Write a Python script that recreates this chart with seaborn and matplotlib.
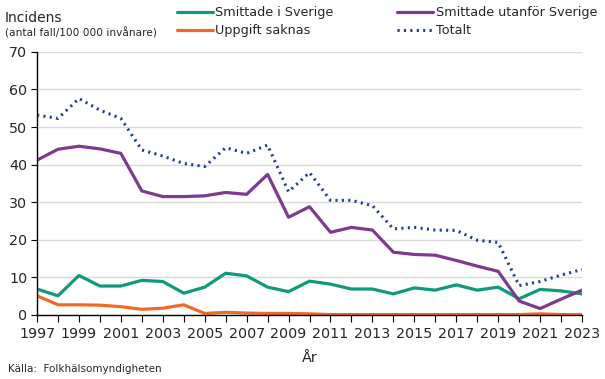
import pandas as pd
import matplotlib.pyplot as plt
import seaborn as sns

# data
years = list(range(1997, 2024))
smittade_sverige = [6.9, 5.1, 10.5, 7.7, 7.7, 9.2, 8.9, 5.8, 7.4, 11.1, 10.4, 7.4, 6.2,
                    9.0, 8.2, 6.9, 6.9, 5.6, 7.2, 6.6, 8.0, 6.6, 7.4, 4.3, 6.8, 6.4, 5.6]
smittade_utanfor = [41.2, 44.1, 44.9, 44.2, 43.0, 33.0, 31.5, 31.5, 31.7, 32.6, 32.1, 37.4, 26.0,
                    28.8, 22.0, 23.3, 22.6, 16.7, 16.1, 15.9, 14.5, 13.0, 11.6, 3.7, 1.7, 4.2, 6.6]
uppgift_saknas = [5.1, 2.7, 2.7, 2.6, 2.2, 1.5, 1.8, 2.7, 0.4, 0.7, 0.5, 0.4, 0.4,
                  0.3, 0.1, 0.1, 0.1, 0.1, 0.1, 0.1, 0.1, 0.1, 0.1, 0.1, 0.3, 0.1, 0.1]
totalt = [53.2, 52.3, 57.6, 54.5, 52.3, 43.9, 42.3, 40.3, 39.5, 44.5, 43.0, 45.2, 32.8,
          37.9, 30.5, 30.5, 29.1, 22.9, 23.3, 22.6, 22.5, 19.9, 19.3, 7.8, 8.9, 10.6, 12.1]

df = pd.DataFrame({
    'År': years,
    'Smittade i Sverige': smittade_sverige,
    'Uppgift saknas': uppgift_saknas,
    'Smittade utanför Sverige': smittade_utanfor,
    'Totalt': totalt,
})

sns.set_style('white')
plt.rcParams['font.family'] = ['DejaVu Sans']

fig = plt.figure(figsize=(6.05, 3.79), dpi=100)
ax = fig.add_axes([0.0612, 0.169, 0.9008, 0.694])

farger = {
    'Smittade i Sverige': '#0E9A7B',
    'Uppgift saknas': '#EE6B25',
    'Smittade utanför Sverige': '#7D3A8E',
    'Totalt': '#233F8F',
}

for namn in ['Smittade i Sverige', 'Uppgift saknas', 'Smittade utanför Sverige']:
    sns.lineplot(data=df, x='År', y=namn, ax=ax, color=farger[namn], lw=2.3, label=namn)
sns.lineplot(data=df, x='År', y='Totalt', ax=ax, color=farger['Totalt'], lw=2.2,
             ls=(0, (0.7, 1.4)), label='Totalt')

ax.set_xlim(1997, 2023)
ax.set_ylim(0, 70)
ax.set_xticks(range(1997, 2024, 2))
ax.set_xticks(range(1997, 2024), minor=True)
ax.set_yticks(range(0, 71, 10))
ax.yaxis.grid(True, color='#d9d9d9', lw=1)
ax.set_axisbelow(True)
ax.tick_params(axis='x', which='both', direction='out', length=5, width=0.8, color='black',
               labelsize=10.3, pad=4, bottom=True)
ax.tick_params(axis='y', direction='out', length=4, width=0.8, color='black', labelsize=10.3,
               left=True, pad=3)
for s in ['top', 'right']:
    ax.spines[s].set_visible(False)
for s in ['left', 'bottom']:
    ax.spines[s].set_color('black')
    ax.spines[s].set_linewidth(1)
ax.set_xlabel('År', fontsize=10.3, labelpad=7)
ax.set_ylabel('')

ax.legend(ncol=2, loc='upper left', bbox_to_anchor=(177 / 605, 1 - 6 / 379),
          bbox_transform=fig.transFigure, frameon=False, borderpad=0,
          fontsize=9.2, handlelength=2.8, handletextpad=0.2, columnspacing=5.0,
          labelspacing=0.4, borderaxespad=0)

fig.text(0.008, 1 - 25 / 379, 'Incidens', fontsize=10, va='bottom')
fig.text(0.008, 1 - 38 / 379, '(antal fall/100 000 invånare)', fontsize=7.6, va='bottom')
fig.text(0.013, 1 - 374 / 379, 'Källa:  Folkhälsomyndigheten', fontsize=7.5, va='bottom')

plt.savefig('out.png', dpi=100)
